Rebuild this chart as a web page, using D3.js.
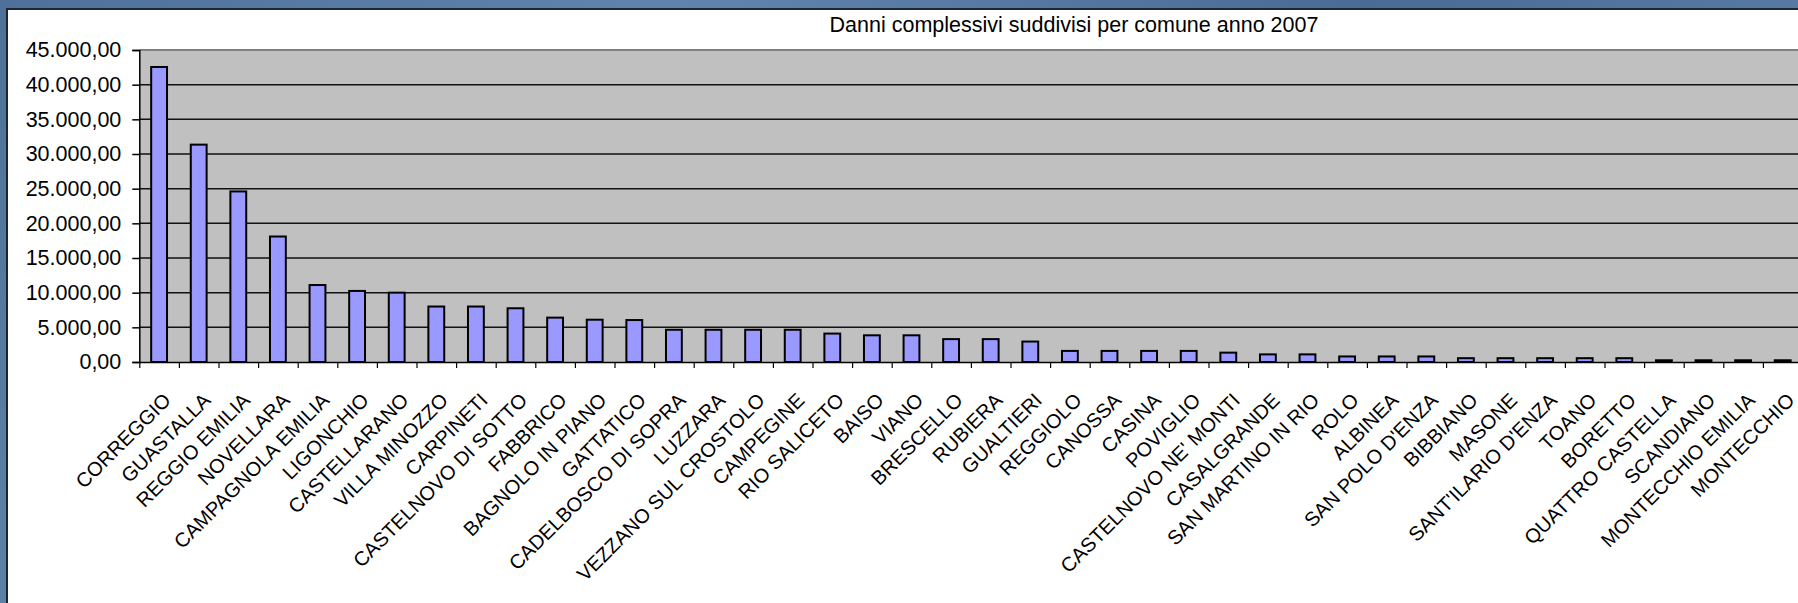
<!DOCTYPE html>
<html>
<head>
<meta charset="utf-8">
<script src="https://cdn.jsdelivr.net/npm/d3@7"></script>
<style>
  html, body { margin: 0; padding: 0; overflow: hidden; background: #fff; }
  text { font-family: "Liberation Sans", Arial, sans-serif; fill: #000; }
</style>
</head>
<body>
<svg id="chart" width="1798" height="603"></svg>
<script>
// Chart content
const chartTitle = "Danni complessivi suddivisi per comune anno 2007";

const comuni = [
  "CORREGGIO", "GUASTALLA", "REGGIO EMILIA", "NOVELLARA", "CAMPAGNOLA EMILIA",
  "LIGONCHIO", "CASTELLARANO", "VILLA MINOZZO", "CARPINETI", "CASTELNOVO DI SOTTO",
  "FABBRICO", "BAGNOLO IN PIANO", "GATTATICO", "CADELBOSCO DI SOPRA", "LUZZARA",
  "VEZZANO SUL CROSTOLO", "CAMPEGINE", "RIO SALICETO", "BAISO", "VIANO",
  "BRESCELLO", "RUBIERA", "GUALTIERI", "REGGIOLO", "CANOSSA",
  "CASINA", "POVIGLIO", "CASTELNOVO NE' MONTI", "CASALGRANDE", "SAN MARTINO IN RIO",
  "ROLO", "ALBINEA", "SAN POLO D'ENZA", "BIBBIANO", "MASONE",
  "SANT'ILARIO D'ENZA", "TOANO", "BORETTO", "QUATTRO CASTELLA", "SCANDIANO",
  "MONTECCHIO EMILIA", "MONTECCHIO"
];

const danni = [
  42550, 31350, 24600, 18100, 11100,
  10250, 10000, 8000, 8000, 7750,
  6400, 6100, 6050, 4650, 4650,
  4650, 4650, 4100, 3850, 3850,
  3300, 3300, 2950, 1600, 1600,
  1600, 1600, 1350, 1100, 1100,
  800, 800, 800, 550, 550,
  550, 550, 550, 250, 250,
  250, 250
];

const yTicks = [0, 5000, 10000, 15000, 20000, 25000, 30000, 35000, 40000, 45000];

// Layout
const W = 1798, H = 603;
const plot = { left: 139.3, top: 50, bottom: 362 };
const catStep = 39.6;

const svg = d3.select("#chart");

// Slide backdrop and white chart sheet
const defs = svg.append("defs");
const bg = defs.append("linearGradient").attr("id", "slideBg")
  .attr("x1", 0).attr("y1", 0).attr("x2", 1).attr("y2", 0.3);
bg.append("stop").attr("offset", "0%").attr("stop-color", "#4e7099");
bg.append("stop").attr("offset", "35%").attr("stop-color", "#6184ad");
bg.append("stop").attr("offset", "70%").attr("stop-color", "#4a6b94");
bg.append("stop").attr("offset", "100%").attr("stop-color", "#5b7ea7");
svg.append("rect").attr("width", W).attr("height", H).attr("fill", "url(#slideBg)");

svg.append("rect").attr("x", 8).attr("y", 10).attr("width", W - 8).attr("height", H - 10)
  .attr("fill", "#fff");
svg.append("path").attr("d", `M7,${H} V9 H${W}`)
  .attr("fill", "none").attr("stroke", "#1c2633").attr("stroke-width", 2);

// Scales
const x = d3.scaleBand()
  .domain(comuni)
  .range([plot.left, plot.left + catStep * comuni.length])
  .paddingInner(0.6)
  .paddingOuter(0.3);

const xEdges = d3.scaleLinear()
  .domain([0, comuni.length])
  .range([plot.left, plot.left + catStep * comuni.length]);

const y = d3.scaleLinear().domain([0, 45000]).range([plot.bottom, plot.top]);

const itLocale = d3.formatLocale({ decimal: ",", thousands: ".", grouping: [3], currency: ["€", ""] });
const fmt = itLocale.format(",.2f");

// Plot area
svg.append("rect")
  .attr("x", plot.left).attr("y", plot.top)
  .attr("width", W - plot.left).attr("height", plot.bottom - plot.top)
  .attr("fill", "#c0c0c0");

// Horizontal gridlines
svg.append("g").selectAll("line")
  .data(yTicks.filter(t => t > 0 && t < 45000))
  .join("line")
  .attr("x1", plot.left).attr("x2", W)
  .attr("y1", d => y(d)).attr("y2", d => y(d))
  .attr("stroke", "#111").attr("stroke-width", 1.5);

svg.append("line")
  .attr("x1", plot.left).attr("x2", W)
  .attr("y1", y(45000)).attr("y2", y(45000))
  .attr("stroke", "#808080").attr("stroke-width", 2);

// Bars
svg.append("g").selectAll("rect")
  .data(danni)
  .join("rect")
  .attr("x", (d, i) => x(comuni[i]))
  .attr("width", x.bandwidth())
  .attr("y", d => y(d))
  .attr("height", d => y(0) - y(d))
  .attr("fill", "#9999ff")
  .attr("stroke", "#000")
  .attr("stroke-width", 2);

// Y axis
const yAxis = svg.append("g")
  .attr("transform", `translate(${plot.left},0)`)
  .call(d3.axisLeft(y).tickValues(yTicks).tickFormat(fmt).tickSize(7).tickPadding(11));
yAxis.select(".domain").attr("stroke", "#000").attr("stroke-width", 1.5);
yAxis.selectAll(".tick line").attr("stroke", "#000").attr("stroke-width", 1.5);
yAxis.selectAll(".tick text")
  .style("font-family", '"Liberation Sans", Arial, sans-serif')
  .style("font-size", "21.5px").attr("fill", "#000");

// X axis: tick marks on category boundaries
const xAxis = svg.append("g")
  .attr("transform", `translate(0,${plot.bottom})`)
  .call(d3.axisBottom(xEdges).tickValues(d3.range(comuni.length + 1)).tickFormat("").tickSize(6).tickSizeOuter(0));
xAxis.select(".domain").attr("stroke", "#000").attr("stroke-width", 1.5);
xAxis.selectAll(".tick line").attr("stroke", "#000").attr("stroke-width", 1.2);

// X axis: rotated category labels
const xLabels = svg.append("g")
  .attr("transform", `translate(0,${plot.bottom})`)
  .call(d3.axisBottom(x).tickSize(0));
xLabels.select(".domain").remove();
xLabels.selectAll(".tick text")
  .attr("x", 0).attr("y", 0).attr("dy", 0)
  .attr("transform", "translate(13,39.5) rotate(-45)")
  .style("text-anchor", "end")
  .style("font-family", '"Liberation Sans", Arial, sans-serif')
  .style("font-size", "20px").attr("fill", "#000");

// Title
svg.append("text")
  .attr("x", 1074).attr("y", 32)
  .attr("text-anchor", "middle")
  .style("font-size", "21.5px")
  .text(chartTitle);
</script>
</body>
</html>
